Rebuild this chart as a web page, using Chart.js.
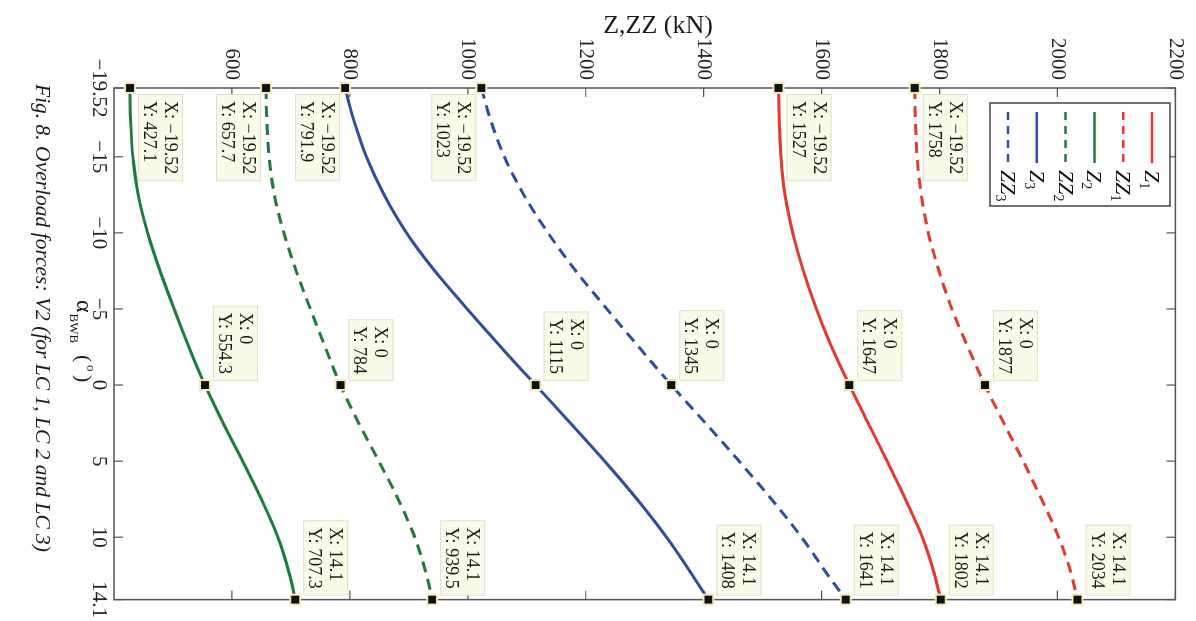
<!DOCTYPE html>
<html><head><meta charset="utf-8">
<script src="https://cdn.jsdelivr.net/npm/chart.js@4.4.1/dist/chart.umd.min.js"></script>
<style>
html,body{margin:0;padding:0;background:#fff;width:1196px;height:621px;overflow:hidden;}
#wrap{position:absolute;left:0;top:0;width:621px;height:1196px;transform-origin:0 0;transform:translateX(1196px) rotate(90deg);}
canvas{display:block;}
</style></head><body>
<div id="wrap"><canvas id="c" width="621" height="1196"></canvas></div>
<script>
// ---- data ----
const alpha = [-19.52, -17.5, -15, -12.5, -10, -7.5, -5, -2.5, 0, 2.5, 5, 7.5, 10, 12.5, 14.1];
const Z1  = [1527, 1528, 1531, 1538, 1551, 1569, 1591, 1617, 1647, 1679, 1711, 1742, 1771, 1792, 1802];
const ZZ1 = [1758, 1759, 1762, 1769, 1781, 1799, 1821, 1848, 1877, 1909, 1942, 1973, 2002, 2024, 2034];
const Z2  = [427.1, 428, 432, 441, 457, 478, 502, 527, 554.3, 585, 618, 650, 678, 698, 707.3];
const ZZ2 = [657.7, 659, 663, 672, 688, 709, 733, 758, 784, 815, 849, 882, 910, 930, 939.5];
const Z3  = [791.9, 806, 828, 858, 896, 944, 999, 1056, 1115, 1174, 1232, 1287, 1337, 1381, 1408];
const ZZ3 = [1023, 1038, 1062, 1095, 1136, 1183, 1236, 1290, 1345, 1403, 1460, 1515, 1566, 1611, 1641];
const xTicks = [-19.52, -15, -10, -5, 0, 5, 10, 14.1];
const yTicks = [600, 800, 1000, 1200, 1400, 1600, 1800, 2000, 2200];
const tipIdx = [0, 8, 14];
const xTitle = ['\u03b1', 'BWB', '(', 'o', ')'];
const yTitle = 'Z,ZZ (kN)';
const caption = 'Fig. 8. Overload forces: V2 (for LC 1, LC 2 and LC 3)';

// ---- styles ----
const SERIF = '"Liberation Serif", "Times New Roman", serif';
const RED = '#e4392c', GREEN = '#1c7c3e', BLUE = '#2d4f9e';
const DASH = [11, 7];
const series = [
  {name: 'Z',  sub: '1', data: Z1,  color: RED,   dash: [],   below: false},
  {name: 'ZZ', sub: '1', data: ZZ1, color: RED,   dash: DASH, below: false},
  {name: 'Z',  sub: '2', data: Z2,  color: GREEN, dash: [],   below: false},
  {name: 'ZZ', sub: '2', data: ZZ2, color: GREEN, dash: DASH, below: true},
  {name: 'Z',  sub: '3', data: Z3,  color: BLUE,  dash: [],   below: true},
  {name: 'ZZ', sub: '3', data: ZZ3, color: BLUE,  dash: DASH, below: true}
];
const fmt = v => String(v).replace('-', '\u2212');

const datasets = [];
series.forEach(s => {
  datasets.push({
    data: alpha.map((a, i) => ({x: a, y: s.data[i]})),
    borderColor: s.color, borderWidth: 3, borderDash: s.dash,
    pointRadius: 0, cubicInterpolationMode: 'monotone', fill: false,
    clip: false, order: 2
  });
});
series.forEach(s => {
  datasets.push({
    data: tipIdx.map(i => ({x: alpha[i], y: s.data[i]})),
    showLine: false, pointStyle: 'rect', pointRadius: 7,
    pointBackgroundColor: '#111', pointBorderColor: '#efeab8', pointBorderWidth: 2,
    clip: false, order: 1
  });
});

const decor = {
  id: 'decor',
  beforeDatasetsDraw(chart) {
    const {ctx, chartArea: ca, scales: {x, y}} = chart;
    ctx.save();
    ctx.strokeStyle = '#555'; ctx.lineWidth = 1.5;
    ctx.strokeRect(ca.left, ca.top, ca.right - ca.left, ca.bottom - ca.top);
    ctx.lineWidth = 1.2; ctx.beginPath();
    xTicks.forEach(v => {
      const p = x.getPixelForValue(v);
      ctx.moveTo(p, ca.bottom); ctx.lineTo(p, ca.bottom - 9);
      ctx.moveTo(p, ca.top); ctx.lineTo(p, ca.top + 9);
    });
    yTicks.forEach(v => {
      const p = y.getPixelForValue(v);
      ctx.moveTo(ca.left, p); ctx.lineTo(ca.left + 9, p);
      ctx.moveTo(ca.right, p); ctx.lineTo(ca.right - 9, p);
    });
    ctx.stroke();
    ctx.restore();
  },
  afterDatasetsDraw(chart) {
    const {ctx, scales: {x, y}} = chart;
    ctx.save();
    ctx.font = '18px ' + SERIF;
    ctx.textAlign = 'left'; ctx.textBaseline = 'alphabetic';
    series.forEach(s => {
      tipIdx.forEach((ti, k) => {
        const a = alpha[ti], v = s.data[ti];
        const px = x.getPixelForValue(a), py = y.getPixelForValue(v);
        const l1 = 'X: ' + fmt(a), l2 = 'Y: ' + fmt(v);
        const w = Math.max(ctx.measureText(l1).width, ctx.measureText(l2).width) + 14;
        const h = 45;
        const bx = k === 0 ? px + 6 : px - 4 - w;
        const by = (k === 0 && s.below) ? py + 5 : py - 8 - h;
        ctx.fillStyle = '#fafae8'; ctx.fillRect(bx, by, w, h);
        ctx.strokeStyle = '#e0e0c8'; ctx.lineWidth = 1;
        ctx.strokeRect(bx + 0.5, by + 0.5, w - 1, h - 1);
        ctx.fillStyle = '#1a1a1a';
        ctx.fillText(l1, bx + 7, by + 18);
        ctx.fillText(l2, bx + 7, by + 39);
      });
    });
    // legend
    const L = 103, T = 26, W = 103, H = 180;
    ctx.fillStyle = '#fff'; ctx.fillRect(L, T, W, H);
    ctx.strokeStyle = '#444'; ctx.lineWidth = 1.5; ctx.strokeRect(L, T, W, H);
    series.forEach((s, i) => {
      const cy = 44 + i * 28.8;
      ctx.strokeStyle = s.color; ctx.lineWidth = 2.5; ctx.setLineDash(s.dash.length ? [8, 6] : []);
      ctx.beginPath(); ctx.moveTo(112, cy); ctx.lineTo(163, cy); ctx.stroke();
      ctx.setLineDash([]);
      ctx.fillStyle = '#111';
      ctx.font = 'italic 22px ' + SERIF;
      ctx.fillText(s.name, 170, cy + 7);
      const nw = ctx.measureText(s.name).width;
      ctx.font = '14px ' + SERIF;
      ctx.fillText(s.sub, 170 + nw, cy + 12);
    });
    ctx.restore();
  },
  afterDraw(chart) {
    const {ctx} = chart;
    ctx.save();
    ctx.fillStyle = '#1a1a1a';
    // y title
    ctx.save();
    ctx.translate(33, 538); ctx.rotate(-Math.PI / 2);
    ctx.font = '26px ' + SERIF; ctx.textAlign = 'center'; ctx.textBaseline = 'alphabetic';
    ctx.fillText(yTitle, 0, 0);
    ctx.restore();
    // x title
    ctx.textAlign = 'left'; ctx.textBaseline = 'alphabetic';
    ctx.font = '24px ' + SERIF;
    ctx.fillText(xTitle[0], 300, 1119);
    const aw = ctx.measureText(xTitle[0]).width;
    ctx.font = '13px ' + SERIF;
    ctx.fillText(xTitle[1], 300 + aw + 1, 1126);
    ctx.font = '22px ' + SERIF;
    ctx.fillText(xTitle[2], 355, 1119);
    ctx.font = '13px ' + SERIF;
    ctx.fillText(xTitle[3], 365, 1109);
    ctx.font = '22px ' + SERIF;
    ctx.fillText(xTitle[4], 375, 1119);
    // caption
    ctx.font = 'italic 21.5px ' + SERIF;
    ctx.fillText(caption, 84, 1160);
    ctx.restore();
  }
};

new Chart(document.getElementById('c'), {
  type: 'line',
  data: {datasets},
  options: {
    responsive: false, animation: false,
    layout: {padding: {left: 0, top: 12, right: 14, bottom: 0}},
    plugins: {legend: {display: false}, tooltip: {enabled: false}, title: {display: false}},
    scales: {
      x: {
        type: 'linear', min: -19.52, max: 14.1,
        grid: {display: false, drawTicks: false}, border: {display: false},
        afterBuildTicks: s => { s.ticks = xTicks.map(v => ({value: v})); },
        afterFit: s => { s.height = 114; },
        ticks: {autoSkip: false, maxRotation: 0, minRotation: 0, padding: 3,
          color: '#222', font: {family: SERIF, size: 21}, callback: v => fmt(v)}
      },
      y: {
        type: 'linear', min: 400, max: 2200,
        grid: {display: false, drawTicks: false}, border: {display: false},
        afterBuildTicks: s => { s.ticks = yTicks.map(v => ({value: v})); },
        afterFit: s => { s.width = 88; },
        ticks: {autoSkip: false, padding: 8, color: '#222', font: {family: SERIF, size: 21},
          callback: v => fmt(v)}
      }
    }
  },
  plugins: [decor]
});
</script>
</body></html>
